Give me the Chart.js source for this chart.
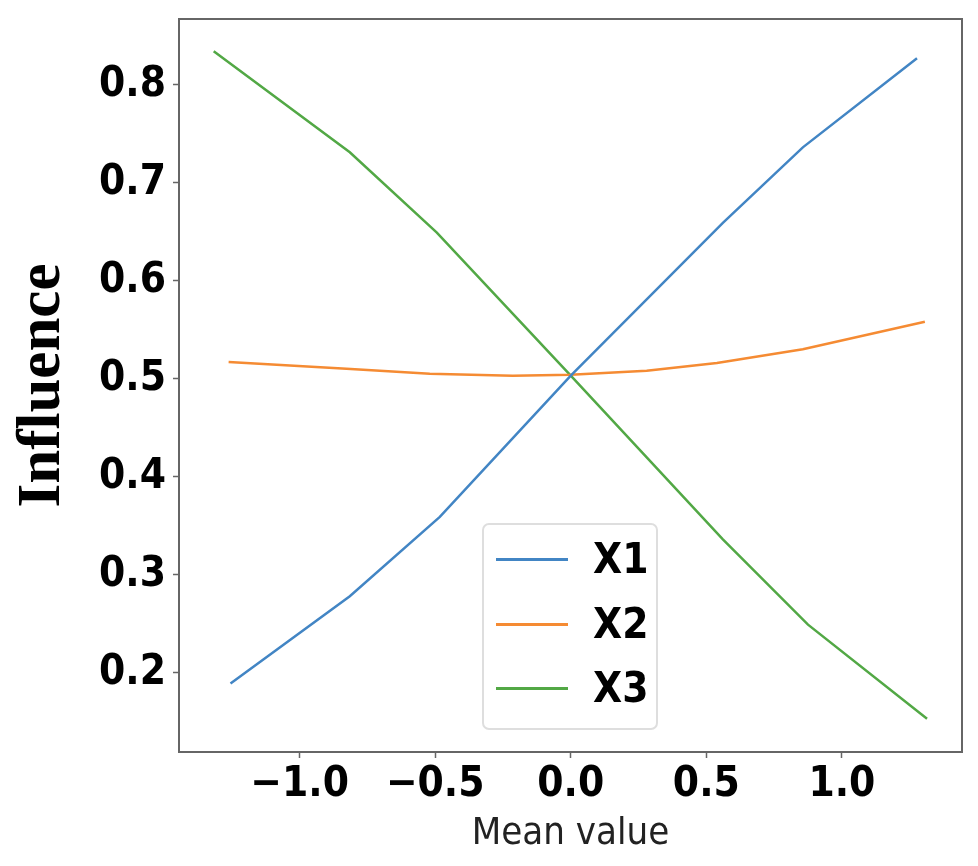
<!DOCTYPE html>
<html>
<head>
<meta charset="utf-8">
<title>Influence vs mean value</title>
<script src="https://cdn.jsdelivr.net/npm/chart.js@4.4.1/dist/chart.umd.min.js"></script>
<style>
  body { margin: 0; background: #fff; }
  #wrap { position: relative; width: 978px; height: 866px; }
  #legend {
    position: absolute; left: 482px; top: 523px; width: 172px; height: 203px;
    border: 2px solid #dedede; border-radius: 7px; background: rgba(255,255,255,0.85);
  }
  .row { position: absolute; left: 0; width: 100%; height: 50px; display: flex; align-items: center; }
  .row .swatch { position: absolute; left: 12px; width: 72px; height: 3px; }
  .row .lbl {
    position: absolute; left: 109px; line-height: 1;
    font-family: 'DejaVu Sans Condensed', 'DejaVu Sans', sans-serif; font-weight: bold; font-size: 42px; color: #000;
  }
</style>
</head>
<body>
<div id="wrap">
  <canvas id="chart" width="978" height="866"></canvas>
  <div id="legend"></div>
</div>
<script>
// --- Data ---
const seriesNames = ['X1', 'X2', 'X3'];
const seriesColors = ['#4285c4', '#f58b33', '#52a845'];

const x1X = [-1.255, -0.815, -0.483, 0.0, 0.561, 0.856, 1.277];
const x1Y = [0.189, 0.278, 0.359, 0.503, 0.659, 0.736, 0.827];

const x2X = [-1.262, -0.827, -0.52, -0.214, 0.0, 0.28, 0.539, 0.856, 1.306];
const x2Y = [0.517, 0.510, 0.505, 0.503, 0.504, 0.508, 0.516, 0.530, 0.558];

const x3X = [-1.317, -0.815, -0.494, 0.0, 0.561, 0.875, 1.314];
const x3Y = [0.834, 0.731, 0.649, 0.503, 0.336, 0.249, 0.153];

const xTicks = [-1.0, -0.5, 0.0, 0.5, 1.0];
const xTickLabels = ['\u22121.0', '\u22120.5', '0.0', '0.5', '1.0'];
const yTicks = [0.2, 0.3, 0.4, 0.5, 0.6, 0.7, 0.8];
const yTickLabels = ['0.2', '0.3', '0.4', '0.5', '0.6', '0.7', '0.8'];

const tickFont = { family: "'DejaVu Sans Condensed', 'DejaVu Sans', sans-serif", weight: 'bold', size: 42 };

function toPoints(xs, ys) {
    return xs.map((x, i) => ({ x: x, y: ys[i] }));
}

// --- Frame around the plot area (matplotlib-style spines) ---
const framePlugin = {
    id: 'frame',
    afterDraw(chart) {
        const { ctx, chartArea: a } = chart;
        ctx.save();
        ctx.strokeStyle = '#666';
        ctx.lineWidth = 2;
        ctx.strokeRect(a.left, a.top, a.right - a.left, a.bottom - a.top);
        ctx.restore();
    }
};

const pointSets = [toPoints(x1X, x1Y), toPoints(x2X, x2Y), toPoints(x3X, x3Y)];

new Chart(document.getElementById('chart'), {
    type: 'line',
    data: {
        datasets: seriesNames.map((name, i) => ({
            label: name,
            data: pointSets[i],
            borderColor: seriesColors[i],
            backgroundColor: seriesColors[i],
            borderWidth: 2.5,
            pointRadius: 0,
            tension: 0,
            fill: false
        }))
    },
    options: {
        responsive: false,
        animation: false,
        layout: { padding: { top: 19, right: 16, bottom: 0, left: 0 } },
        plugins: {
            legend: { display: false },
            tooltip: { enabled: false }
        },
        scales: {
            x: {
                type: 'linear',
                min: -1.445,
                max: 1.443,
                afterFit(scale) {
                    scale.height = 114;
                    scale.paddingLeft = 0;
                    scale.paddingRight = 0;
                },
                afterBuildTicks(scale) { scale.ticks = xTicks.map(v => ({ value: v })); },
                grid: { drawOnChartArea: false, drawTicks: true, tickLength: 6, color: '#666', tickWidth: 1.5 },
                border: { display: true, color: '#666', width: 2 },
                ticks: {
                    color: '#000',
                    font: tickFont,
                    padding: 2,
                    maxRotation: 0,
                    callback: (v) => xTickLabels[xTicks.indexOf(v)]
                },
                title: {
                    display: true,
                    text: 'Mean value',
                    color: '#222',
                    font: { family: "'DejaVu Sans Condensed', 'DejaVu Sans', sans-serif", size: 38 },
                    padding: { top: 0, bottom: 9 }
                }
            },
            y: {
                type: 'linear',
                min: 0.119,
                max: 0.867,
                afterFit(scale) {
                    scale.width = 179;
                    scale.paddingTop = 0;
                    scale.paddingBottom = 0;
                },
                afterBuildTicks(scale) { scale.ticks = yTicks.map(v => ({ value: v })); },
                grid: { drawOnChartArea: false, drawTicks: true, tickLength: 6, color: '#666', tickWidth: 1.5 },
                border: { display: true, color: '#666', width: 2 },
                ticks: {
                    color: '#000',
                    font: tickFont,
                    padding: 7,
                    callback: (v) => yTickLabels[yTicks.indexOf(v)]
                },
                title: {
                    display: true,
                    text: 'Influence',
                    color: '#000',
                    font: { family: "'Liberation Serif', 'Times New Roman', serif", weight: 'bold', size: 61 },
                    padding: { top: 7, bottom: 0 }
                }
            }
        }
    },
    plugins: [framePlugin]
});

// --- Legend box inside the plot (HTML) ---
const legendRowCenters = [36, 101, 165];
const legendBox = document.getElementById('legend');
seriesNames.forEach((name, i) => {
    const row = document.createElement('div');
    row.className = 'row';
    row.style.top = (legendRowCenters[i] - 25 - 2) + 'px';
    row.innerHTML = '<span class="swatch" style="background:' + seriesColors[i] + '"></span>' +
                    '<span class="lbl">' + name + '</span>';
    legendBox.appendChild(row);
});
</script>
</body>
</html>
